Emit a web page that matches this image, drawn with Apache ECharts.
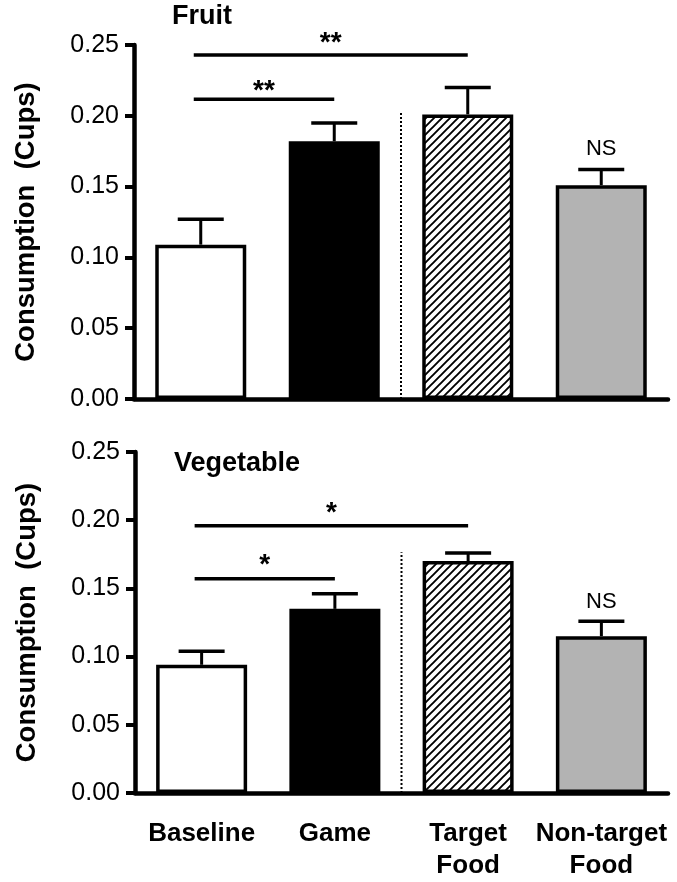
<!DOCTYPE html>
<html>
<head>
<meta charset="utf-8">
<script src="https://cdn.jsdelivr.net/npm/echarts@6/dist/echarts.min.js"></script>
<style>
html,body{margin:0;padding:0;background:#fff;}
#chart{width:677px;height:882px;}
</style>
</head>
<body>
<div id="chart"></div>
<script>
// ---- data ----
const categories = ['Baseline', 'Game', 'Target\nFood', 'Non-target\nFood'];
const yTicks = [0, 0.05, 0.10, 0.15, 0.20, 0.25];

const fruitMean = [0.109, 0.182, 0.201, 0.151];
const fruitSem  = [0.018, 0.013, 0.019, 0.011];
const vegMean   = [0.094, 0.135, 0.170, 0.115];
const vegSem    = [0.010, 0.011, 0.006, 0.011];

// significance brackets: from category, to category, line height, label height, label
const fruitSigFrom  = [0, 0];
const fruitSigTo    = [2, 1];
const fruitSigY     = [0.243, 0.2116];
const fruitStarY    = [0.256, 0.2217];
const fruitSigLabel = ['**', '**'];
const vegSigFrom    = [0, 0];
const vegSigTo      = [2, 1];
const vegSigY       = [0.196, 0.157];
const vegStarY      = [0.2097, 0.172];
const vegSigLabel   = ['*', '*'];

const nsLabel = 'NS';
const nsIndex = 3;
const nsY = [0.177, 0.141];
const dividerTop = [0.203, 0.1765];

const panelTitles = ['Fruit', 'Vegetable'];
const yName = 'Consumption  (Cups)';

// ---- drawing ----
const FONT = '"Liberation Sans", Arial, Helvetica, sans-serif';

function makeHatch() {
  const c = document.createElement('canvas');
  c.width = 8; c.height = 8;
  const ctx = c.getContext('2d');
  ctx.fillStyle = '#fff';
  ctx.fillRect(0, 0, 8, 8);
  ctx.strokeStyle = '#000';
  ctx.lineWidth = 1.9;
  ctx.beginPath();
  ctx.moveTo(-1, 9); ctx.lineTo(9, -1);
  ctx.moveTo(-3, 3); ctx.lineTo(3, -3);
  ctx.moveTo(5, 11); ctx.lineTo(11, 5);
  ctx.stroke();
  return c;
}
const hatch = makeHatch();
const barFills = ['#ffffff', '#000000', { image: hatch, repeat: 'repeat' }, '#b3b3b3'];

const chart = echarts.init(document.getElementById('chart'), null, { renderer: 'canvas' });

const grids = [
  { left: 134, right: 9, top: 45, height: 354 },
  { left: 135, right: 9, top: 452, height: 351 }
];

function xAxisDef(gi, showLabels) {
  return {
    type: 'category', gridIndex: gi, data: categories,
    boundaryGap: true,
    axisLine: { lineStyle: { color: '#000', width: 4.5 } },
    axisTick: { alignWithLabel: true, length: 10, lineStyle: { color: '#000', width: 4 } },
    axisLabel: showLabels ? {
      show: true, margin: 25, color: '#000', fontSize: 26, fontWeight: 'bold',
      fontFamily: FONT, lineHeight: 32, interval: 0
    } : { show: false },
    splitLine: { show: false }
  };
}
function yAxisDef(gi) {
  return {
    type: 'value', gridIndex: gi, min: yTicks[0], max: yTicks[yTicks.length - 1], interval: 0.05,
    name: yName, nameLocation: 'middle', nameGap: 94,
    nameTextStyle: { color: '#000', fontSize: 27.5, fontWeight: 'bold', fontFamily: FONT },
    axisLine: { show: true, lineStyle: { color: '#000', width: 4.5 } },
    axisTick: { show: true, length: 9, lineStyle: { color: '#000', width: 4 } },
    axisLabel: { margin: 15, color: '#000', fontSize: 25, fontFamily: FONT,
      formatter: v => v.toFixed(2) },
    splitLine: { show: false }
  };
}

function barSeries(gi, means) {
  return {
    type: 'bar', xAxisIndex: gi, yAxisIndex: gi, barWidth: 91,
    data: means.map((v, i) => ({
      value: v,
      itemStyle: { color: barFills[i], borderColor: '#000', borderWidth: 3.5 }
    })),
    z: 2, animation: false
  };
}

function errSeries(gi, means, sems) {
  return {
    type: 'custom', xAxisIndex: gi, yAxisIndex: gi, z: 3, animation: false,
    data: means.map((m, i) => [i, m, m + sems[i]]),
    renderItem: (params, api) => {
      const base = api.coord([api.value(0), api.value(1)]);
      const top = api.coord([api.value(0), api.value(2)]);
      return {
        type: 'group', children: [
          { type: 'line', shape: { x1: base[0], y1: base[1], x2: top[0], y2: top[1] },
            style: { stroke: '#000', lineWidth: 3 } },
          { type: 'line', shape: { x1: top[0] - 23, y1: top[1], x2: top[0] + 23, y2: top[1] },
            style: { stroke: '#000', lineWidth: 3.5 } }
        ]
      };
    }
  };
}

function sigSeries(gi, from, to, ys, starYs, labels, nsVal, divTop) {
  const data = from.map((f, i) => [f, to[i], ys[i], starYs[i]]);
  return {
    type: 'custom', xAxisIndex: gi, yAxisIndex: gi, z: 4, animation: false, clip: false,
    data: data,
    renderItem: (params, api) => {
      const idx = params.dataIndex;
      const a = api.coord([api.value(0), api.value(2)]);
      const b = api.coord([api.value(1), api.value(2)]);
      const s = api.coord([api.value(0), api.value(3)]);
      const x1 = a[0] - 7, x2 = b[0];
      const children = [
        { type: 'line', shape: { x1: x1, y1: a[1], x2: x2, y2: a[1] },
          style: { stroke: '#000', lineWidth: 3.5 } },
        { type: 'text', style: { text: labels[idx], x: (x1 + x2) / 2, y: s[1] + 6.5,
            align: 'center', verticalAlign: 'middle', fill: '#000',
            fontSize: 28, fontWeight: 'bold', fontFamily: FONT } }
      ];
      if (idx === 0) {
        // NS label above non-target error bar
        const ns = api.coord([nsIndex, nsVal]);
        children.push({ type: 'text', style: { text: nsLabel, x: ns[0], y: ns[1] + 1,
          align: 'center', verticalAlign: 'middle', fill: '#000',
          fontSize: 22, fontFamily: FONT } });
        // dotted divider between Game and Target
        const p1 = api.coord([1, 0]);
        const p2 = api.coord([2, divTop]);
        const xm = (p1[0] + p2[0]) / 2;
        children.push({ type: 'line', shape: { x1: xm, y1: p1[1], x2: xm, y2: p2[1] },
          style: { stroke: '#000', lineWidth: 2, lineDash: [2, 2] } });
      }
      return { type: 'group', children: children };
    }
  };
}

const option = {
  backgroundColor: '#fff',
  textStyle: { fontFamily: FONT },
  title: [
    { text: panelTitles[0], left: 172, top: 3, padding: 0,
      textStyle: { color: '#000', fontSize: 27, fontWeight: 'bold', fontFamily: FONT } },
    { text: panelTitles[1], left: 174, top: 450, padding: 0,
      textStyle: { color: '#000', fontSize: 27, fontWeight: 'bold', fontFamily: FONT } }
  ],
  grid: grids,
  xAxis: [xAxisDef(0, false), xAxisDef(1, true)],
  yAxis: [yAxisDef(0), yAxisDef(1)],
  series: [
    barSeries(0, fruitMean),
    errSeries(0, fruitMean, fruitSem),
    sigSeries(0, fruitSigFrom, fruitSigTo, fruitSigY, fruitStarY, fruitSigLabel, nsY[0], dividerTop[0]),
    barSeries(1, vegMean),
    errSeries(1, vegMean, vegSem),
    sigSeries(1, vegSigFrom, vegSigTo, vegSigY, vegStarY, vegSigLabel, nsY[1], dividerTop[1])
  ]
};
chart.setOption(option);
</script>
</body>
</html>
